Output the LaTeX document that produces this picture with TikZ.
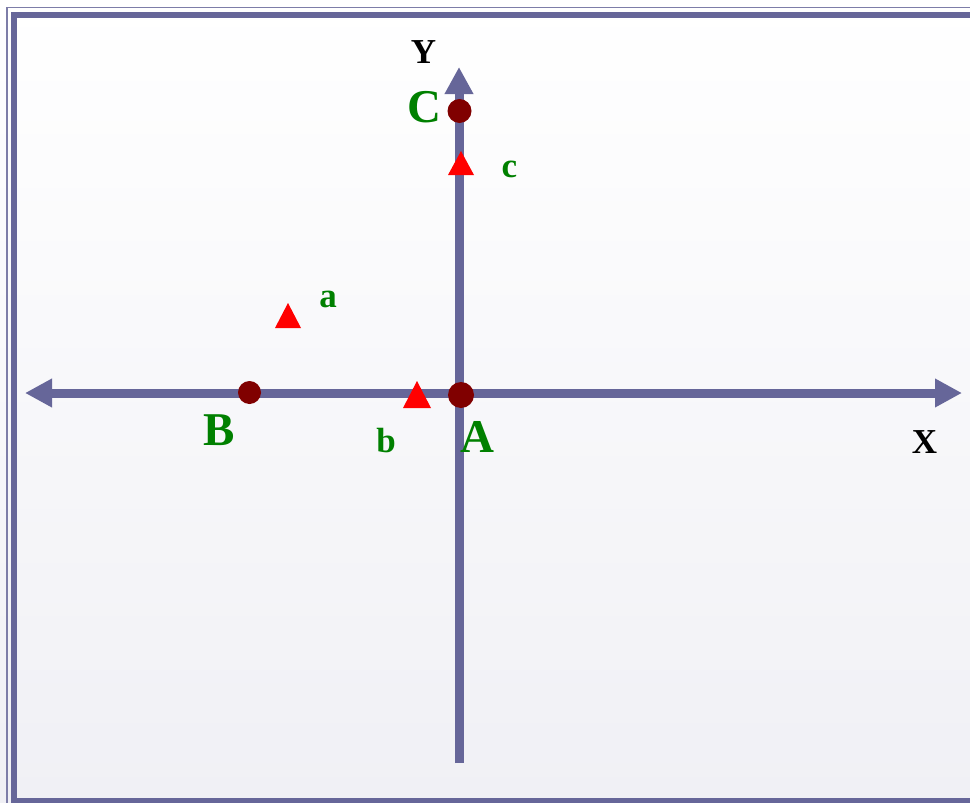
\documentclass[tikz,border=0pt]{standalone}
\usepackage{fontspec}
\setmainfont{Liberation Serif}
\usetikzlibrary{arrows.meta}

\definecolor{axiscolor}{rgb}{0.400000, 0.400000, 0.600000}
\definecolor{framecolor}{rgb}{0.400000, 0.400000, 0.600000}
\definecolor{labelgreen}{rgb}{0.000000, 0.500000, 0.000000}
\definecolor{dotcolor}{rgb}{0.500000, 0.000000, 0.000000}
\definecolor{shadebottom}{rgb}{0.941176, 0.941176, 0.960784}

\tikzset{
  axis/.style={draw=axiscolor, line width=9pt},
  axistip/.tip={Triangle[length=27pt, width=27pt]},
  pointdot/.style={circle, fill=dotcolor, inner sep=0pt, outer sep=0pt},
  pointtri/.style={fill=red},
  biglabel/.style={text=labelgreen, anchor=base, inner sep=0pt, font=\fontsize{47}{47}\selectfont\bfseries},
  smalllabel/.style={text=labelgreen, anchor=base, inner sep=0pt, font=\fontsize{35}{35}\selectfont\bfseries},
  axislabel/.style={text=black, anchor=base, inner sep=0pt, font=\fontsize{35}{35}\selectfont\bfseries}
}

\begin{document}
\begin{tikzpicture}[x=1pt, y=-1pt]
\useasboundingbox (0,0) rectangle (970,803);
% background and frame
\shade[top color=white, bottom color=shadebottom] (0,0) rectangle (970,803);
\draw[draw=framecolor!85, line width=1.5pt] (7,7.5) rectangle (990,820);
\draw[draw=framecolor, line width=6pt] (14,14.5) rectangle (985,801);

% axes
\coordinate (xleft) at (25,393);
\coordinate (xright) at (962,393);
\coordinate (ybottom) at (459,763);
\coordinate (ytop) at (459,67);
\draw[axis, axistip-axistip] (xleft) -- (xright);
\draw[axis, -axistip] (ybottom) -- (ytop);

% points
\node[pointdot, minimum size=26pt] (A) at (461,395) {};
\node[pointdot, minimum size=23pt] (B) at (249.5,392.5) {};
\node[pointdot, minimum size=24pt] (C) at (459.5,111) {};
\coordinate (a) at (288,315.5);
\coordinate (b) at (417,394.5);
\coordinate (c) at (461,163);
\fill[pointtri] (a) +(0,-12.5) -- +(13,12.5) -- +(-13,12.5) -- cycle;
\fill[pointtri] (b) +(0,-13.5) -- +(14,13.5) -- +(-14,13.5) -- cycle;
\fill[pointtri] (c) +(0,-12) -- +(13,12) -- +(-13,12) -- cycle;

% labels
\node[axislabel] (labelX) at (924.5,453) {X};
\node[axislabel] (labelY) at (423.5,63) {Y};
\node[biglabel] (labelA) at (477.5,452) {A};
\node[biglabel] (labelB) at (219,445) {B};
\node[biglabel] (labelC) at (424.5,122) {C};
\node[smalllabel] (labela) at (328,307) {a};
\node[smalllabel] (labelb) at (386,452) {b};
\node[smalllabel] (labelc) at (509.5,177) {c};
\end{tikzpicture}
\end{document}
